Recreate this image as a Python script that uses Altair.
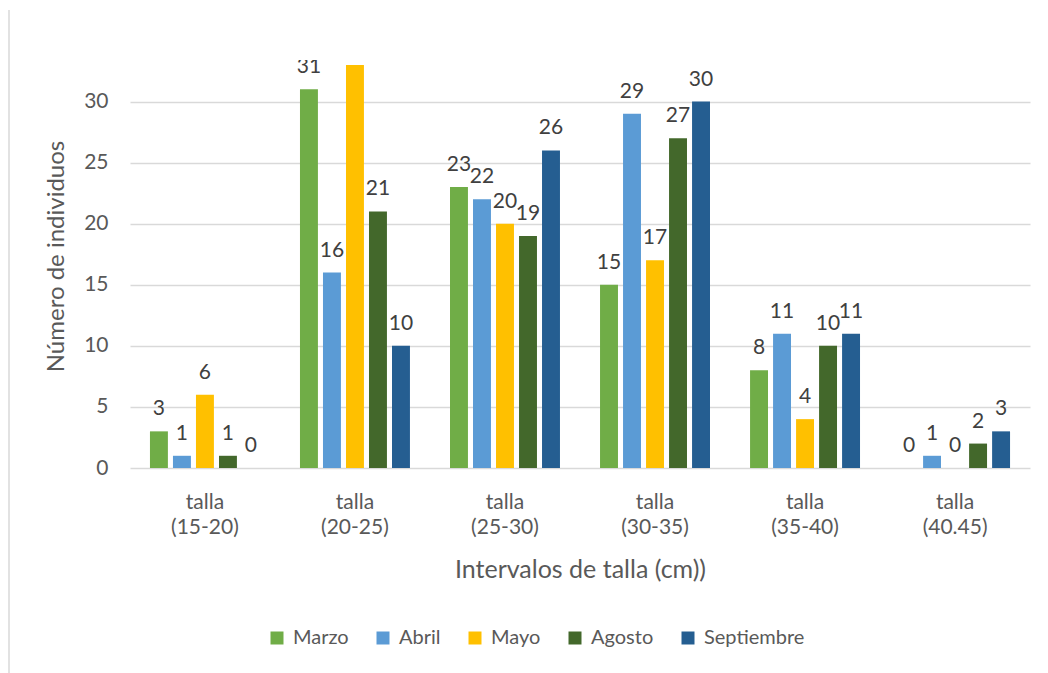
import altair as alt
import pandas as pd

categories = ["talla (15-20)", "talla (20-25)", "talla (25-30)",
              "talla (30-35)", "talla (35-40)", "talla (40.45)"]
series = ["Marzo", "Abril", "Mayo", "Agosto", "Septiembre"]
marzo = [3, 31, 23, 15, 8, 0]
abril = [1, 16, 22, 29, 11, 1]
mayo = [6, 33, 20, 17, 4, 0]
agosto = [1, 21, 19, 27, 10, 2]
septiembre = [0, 10, 26, 30, 11, 3]
colors = ["#70AD47", "#5B9BD5", "#FFC000", "#43682B", "#255E91"]
y_ticks = [0, 5, 10, 15, 20, 25, 30]

rows = []
for name, vals in zip(series, [marzo, abril, mayo, agosto, septiembre]):
    for c, v in zip(categories, vals):
        rows.append({"cat": c, "serie": name, "valor": v})
df = pd.DataFrame(rows)

FONT = "Lato"

x_enc = alt.X("cat:N", sort=categories,
              scale=alt.Scale(paddingInner=0.267, paddingOuter=0.133),
              axis=alt.Axis(title="Intervalos de talla (cm))", labelAngle=0,
                            labelExpr="split(datum.label, ' ')",
                            labelFontSize=21, labelColor="#595959", labelFont=FONT,
                            labelPadding=23, labelLineHeight=25,
                            titleFontSize=25, titleColor="#595959", titleFont=FONT,
                            titleFontWeight="normal", titlePadding=20,
                            domain=False, ticks=False, grid=False))
xoff = alt.XOffset("serie:N", sort=series, scale=alt.Scale(paddingInner=0.22))
y_enc = alt.Y("valor:Q", scale=alt.Scale(domain=[0, 33.4], nice=False),
              axis=alt.Axis(title="Número de individuos", values=y_ticks,
                            labelFontSize=21, labelColor="#595959", labelFont=FONT,
                            labelPadding=22,
                            titleFontSize=24, titleColor="#595959", titleFont=FONT,
                            titleFontWeight="normal", titlePadding=15, titleY=196,
                            domain=False, ticks=False, grid=True,
                            gridColor="#D9D9D9", gridWidth=1.3))
color_enc = alt.Color("serie:N", sort=series,
                      scale=alt.Scale(domain=series, range=colors),
                      legend=alt.Legend(title=None, orient="none", direction="horizontal",
                                        legendX=137, legendY=568,
                                        symbolType="square", symbolSize=169,
                                        symbolStrokeWidth=0, symbolOpacity=1,
                                        labelFontSize=20, labelColor="#595959",
                                        labelFont=FONT, labelOffset=6,
                                        columnPadding=24))

bars = alt.Chart(df).mark_bar(clip=True).encode(
    x=x_enc, xOffset=xoff, y=y_enc, color=color_enc)

labels = alt.Chart(df).mark_text(clip=True, baseline="middle", dy=-22,
                                 fontSize=21, color="#404040", font=FONT).encode(
    x=alt.X("cat:N", sort=categories), xOffset=alt.XOffset("serie:N", sort=series),
    y="valor:Q", text="valor:Q")

border = alt.Chart(pd.DataFrame({"k": [0]})).mark_rule(
    color="#D9D9D9", strokeWidth=1.5).encode(
    x=alt.value(-121), y=alt.value(-50), y2=alt.value(613))

chart = alt.layer(bars, labels, border).properties(
    width=900, height=408,
    autosize=alt.AutoSizeParams(type="none"),
    padding={"left": 122, "top": 52, "right": 10, "bottom": 205},
).configure_view(stroke=None)

chart.save("out.html", embed_options={"renderer": "svg", "actions": False})
